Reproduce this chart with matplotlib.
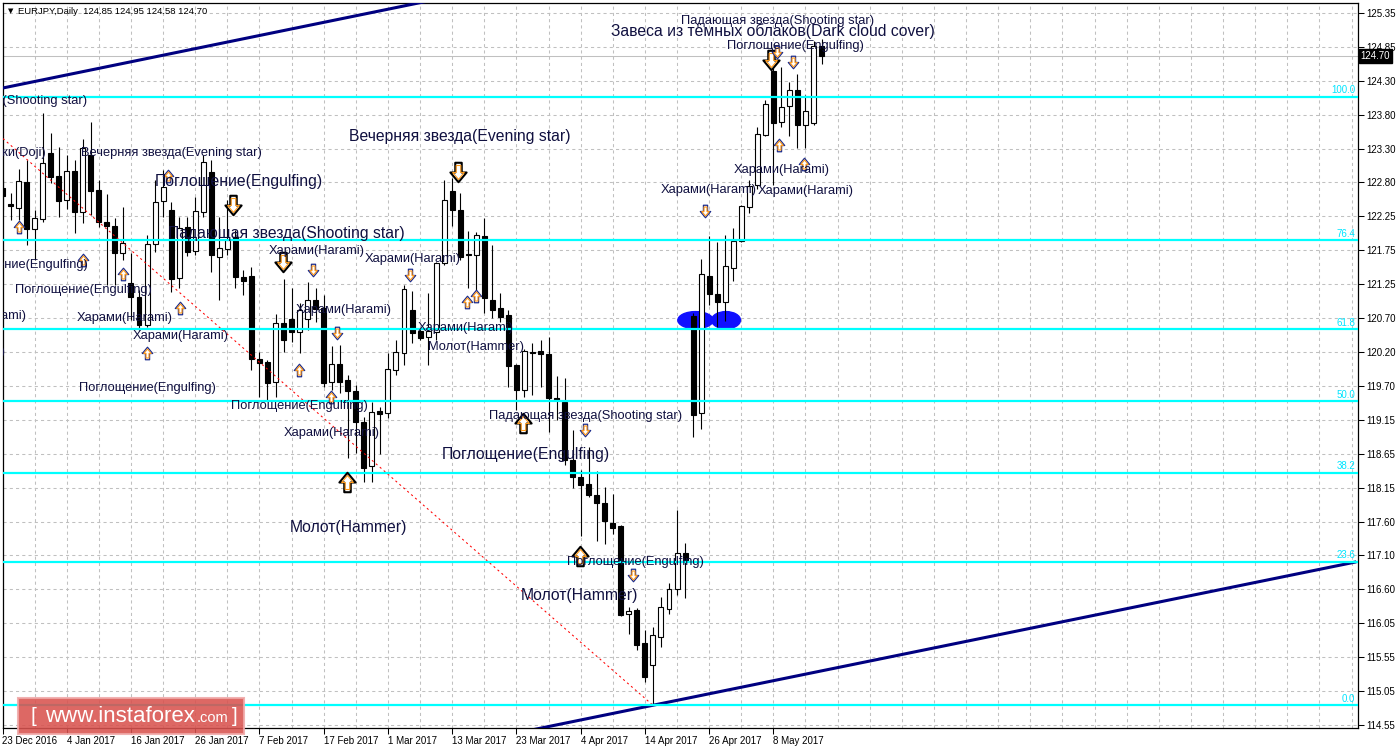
import matplotlib
matplotlib.use('Agg')
import matplotlib.pyplot as plt
from matplotlib.patches import Ellipse, Rectangle
from matplotlib.path import Path
import numpy as np

plt.rcParams['font.family'] = ['Liberation Sans', 'DejaVu Sans']

# EURJPY daily bars, 23 Dec 2016 .. 16 May 2017
opens = [122.70, 122.45, 122.39, 122.79, 122.07, 122.23, 123.23, 122.88, 122.51, 122.95,
         122.33, 123.20, 122.67, 122.18, 122.12, 121.71, 121.26, 121.04, 120.62, 121.85,
         122.50, 122.36, 121.33, 122.10, 121.74, 122.33, 122.94, 121.65, 121.77, 121.95,
         121.35, 121.36, 120.10, 120.06, 119.75, 120.65, 120.71, 120.51, 120.71, 121.00,
         120.88, 119.75, 120.03, 119.78, 119.62, 119.15, 118.48, 119.31, 119.28, 119.94,
         120.19, 120.85, 120.53, 120.44, 120.51, 121.56, 122.65, 122.36, 121.69, 121.68,
         121.97, 121.00, 120.88, 120.77, 120.01, 119.63, 120.21, 120.22, 120.18, 119.51,
         119.45, 118.57, 118.31, 118.21, 118.04, 117.92, 117.61, 117.57, 116.23, 116.30,
         115.79, 115.46, 115.89, 116.31, 116.61, 117.16, 120.75, 119.28, 121.36, 121.09,
         120.97, 121.48, 121.89, 122.41, 122.74, 123.50, 124.47, 123.70, 123.94, 124.18,
         123.65, 123.68, 124.85]
highs = [122.82, 122.62, 122.98, 123.12, 122.36, 123.83, 123.53, 123.32, 123.20, 123.12,
         123.44, 123.70, 122.82, 122.60, 122.24, 122.41, 121.71, 121.15, 121.98, 122.82,
         122.97, 122.48, 122.26, 122.26, 122.56, 123.20, 123.12, 122.26, 122.51, 122.06,
         121.45, 121.50, 120.21, 120.09, 120.78, 121.32, 121.18, 120.95, 121.27, 121.18,
         121.07, 120.30, 120.31, 119.86, 119.71, 119.22, 119.45, 119.37, 120.19, 120.39,
         121.22, 121.13, 120.57, 121.10, 121.57, 122.82, 122.85, 122.62, 122.04, 122.03,
         122.24, 121.83, 121.10, 120.85, 120.03, 120.25, 120.35, 120.39, 120.44, 119.84,
         119.81, 119.02, 118.42, 118.77, 118.40, 118.16, 118.05, 117.58, 116.34, 116.33,
         115.99, 116.04, 116.49, 116.70, 117.81, 117.31, 120.80, 121.62, 121.97, 121.88,
         121.98, 122.09, 122.44, 122.82, 123.62, 124.03, 124.64, 124.53, 124.30, 124.42,
         124.11, 124.93, 124.95]
lows = [122.36, 122.21, 122.21, 121.83, 121.60, 122.18, 122.77, 122.26, 122.38, 122.01,
        122.17, 122.29, 122.10, 121.22, 121.22, 121.60, 120.69, 120.54, 120.59, 121.73,
        122.26, 121.12, 121.18, 121.66, 121.68, 122.26, 121.42, 121.00, 121.68, 121.18,
        121.07, 119.94, 119.53, 119.48, 119.53, 120.21, 120.36, 120.19, 120.54, 120.66,
        119.68, 119.63, 119.59, 118.60, 118.68, 118.24, 118.24, 118.66, 119.21, 119.86,
        120.01, 120.35, 120.39, 120.01, 120.39, 121.53, 122.12, 121.60, 121.18, 121.10,
        120.80, 120.72, 120.66, 119.68, 119.33, 119.53, 119.56, 119.68, 118.99, 119.18,
        118.49, 118.15, 117.42, 118.01, 117.34, 117.30, 117.45, 116.20, 115.93, 115.69,
        115.20, 114.85, 115.73, 116.23, 116.52, 116.48, 118.92, 119.04, 120.92, 120.59,
        120.68, 121.29, 121.88, 122.32, 122.68, 123.48, 122.74, 123.62, 123.48, 123.30,
        123.30, 123.65, 124.58]
closes = [122.57, 122.42, 122.80, 122.07, 122.24, 123.07, 122.86, 122.50, 122.95, 122.33,
          123.30, 122.65, 122.18, 122.12, 121.71, 121.86, 121.04, 120.62, 121.85, 122.48,
          122.71, 121.32, 122.09, 121.73, 122.35, 123.09, 121.68, 121.79, 121.91, 121.35,
          121.29, 120.10, 120.04, 119.74, 120.65, 120.39, 120.51, 120.85, 121.00, 120.86,
          119.74, 120.03, 119.75, 119.62, 119.15, 118.45, 119.30, 119.27, 119.95, 120.21,
          121.16, 120.50, 120.42, 120.53, 121.56, 122.51, 122.36, 121.65, 121.68, 121.98,
          121.03, 120.85, 120.74, 120.00, 119.63, 120.22, 120.19, 120.18, 119.51, 119.48,
          118.57, 118.31, 118.19, 118.04, 117.92, 117.64, 117.54, 116.22, 116.28, 115.76,
          115.28, 115.92, 116.34, 116.61, 117.16, 117.04, 119.25, 121.39, 121.09, 120.97,
          121.51, 121.89, 122.42, 122.73, 123.52, 123.97, 123.68, 123.92, 124.18, 123.65,
          123.86, 124.85, 124.70]

date_labels = ['23 Dec 2016', '4 Jan 2017', '16 Jan 2017', '26 Jan 2017', '7 Feb 2017',
               '17 Feb 2017', '1 Mar 2017', '13 Mar 2017', '23 Mar 2017', '4 Apr 2017',
               '14 Apr 2017', '26 Apr 2017', '8 May 2017']
price_labels = ['125.35', '124.85', '124.30', '123.80', '123.30', '122.80', '122.25',
                '121.75', '121.25', '120.70', '120.20', '119.70', '119.15', '118.65',
                '118.15', '117.60', '117.10', '116.60', '116.05', '115.55', '115.05', '114.55']

# fibonacci grid from the 17 Apr low to the December high
fib_low, fib_high = 114.85, 124.08
fib_ratios = [0.0, 0.236, 0.382, 0.5, 0.618, 0.764, 1.0]
fib_names = ['0.0', '23.6', '38.2', '50.0', '61.8', '76.4', '100.0']

# trend lines (bar index, price)
upper_trend = [(0, 124.21), (55, 125.58)]
lower_trend = [(81, 114.85), (168.4, 117.02)]
red_line = [(0, 123.45), (81, 114.85)]

big_labels = [
    ('Завеса из тёмных облаков(Dark cloud cover)', 75.8, 125.08),
    ('Вечерняя звезда(Evening star)', 43.2, 123.48),
    ('Поглощение(Engulfing)', 19.0, 122.80),
    ('Падающая звезда(Shooting star)', 20.6, 122.00),
    ('Поглощение(Engulfing)', 54.7, 118.65),
    ('Молот(Hammer)', 35.8, 117.55),
    ('Молот(Hammer)', 64.6, 116.51),
]
small_labels = [
    ('Падающая звезда(Shooting star)', 84.5, 125.23, 'left'),
    ('Поглощение(Engulfing)', 90.2, 124.85, 'left'),
    ('Падающая звезда(Shooting star)', 10.5, 124.01, 'right'),
    ('Доджи(Doji)', 5.5, 123.23, 'right'),
    ('Вечерняя звезда(Evening star)', 9.8, 123.23, 'left'),
    ('Поглощение(Engulfing)', 10.65, 121.53, 'right'),
    ('Поглощение(Engulfing)', 1.56, 121.15, 'left'),
    ('Харами(Harami)', 3.05, 120.75, 'right'),
    ('Харами(Harami)', 9.28, 120.72, 'left'),
    ('Харами(Harami)', 16.25, 120.45, 'left'),
    ('Харами(Harami)', 0.45, 120.21, 'right'),
    ('Поглощение(Engulfing)', 9.53, 119.66, 'left'),
    ('Поглощение(Engulfing)', 28.46, 119.39, 'left'),
    ('Харами(Harami)', 35.06, 118.98, 'left'),
    ('Харами(Harami)', 33.2, 121.74, 'left'),
    ('Харами(Harami)', 36.55, 120.85, 'left'),
    ('Харами(Harami)', 45.1, 121.62, 'left'),
    ('Харами(Harami)', 51.7, 120.57, 'left'),
    ('Молот(Hammer)', 53.0, 120.28, 'left'),
    ('Падающая звезда(Shooting star)', 60.6, 119.24, 'left'),
    ('Поглощение(Engulfing)', 70.3, 117.02, 'left'),
    ('Харами(Harami)', 82.0, 122.67, 'left'),
    ('Харами(Harami)', 94.0, 122.65, 'left'),
    ('Харами(Harami)', 91.0, 122.97, 'left'),
]
# (bar, price, up?, big?)
arrows = [
    (28.7, 122.44, False, True), (34.9, 121.57, False, True), (56.7, 122.94, False, True),
    (95.7, 124.64, False, True),
    (42.9, 118.24, True, True), (64.8, 119.13, True, True), (71.9, 117.11, True, True),
    (2.05, 122.10, True, False), (10.0, 121.60, True, False), (15.0, 121.39, True, False),
    (22.1, 120.88, True, False), (18.0, 120.19, True, False), (36.9, 119.93, True, False),
    (40.9, 119.52, True, False), (57.85, 120.97, True, False), (58.96, 121.06, True, False),
    (96.7, 123.35, True, False), (99.8, 123.06, True, False), (20.6, 122.88, True, False),
    (38.7, 121.45, False, False), (41.7, 120.50, False, False), (50.8, 121.38, False, False),
    (72.5, 119.03, False, False), (78.5, 116.83, False, False), (87.5, 122.35, False, False),
    (96.5, 124.76, False, False), (98.5, 124.61, False, False),
]

W, H = 1398, 749
fig = plt.figure(figsize=(W / 100, H / 100), dpi=100)
L, T, R, B = 2.5, 3, 1358, 728
ax = fig.add_axes([L / W, 1 - B / H, (R - L) / W, (B - T) / H])
ax.set_xlim(0, (R - L) / 8.03)
ax.set_ylim(114.505, 125.50)

# grid
price_ticks = np.linspace(125.35, 114.55, len(price_labels))
for xb in np.arange(4, 170, 4):
    ax.axvline(xb, color='#c0c0c0', lw=0.75, ls=(0, (3, 3)), zorder=1)
for yp in price_ticks:
    ax.axhline(yp, color='#c0c0c0', lw=0.75, ls=(0, (3, 3)), zorder=1)

# bid line
ax.axhline(closes[-1], color='#c0c0c0', lw=0.75, zorder=1)

# highlighted gap
ax.add_patch(Ellipse((86.3, 120.69), 4.4, 0.26, color='#1010ff', zorder=2))
ax.add_patch(Ellipse((90.1, 120.69), 3.6, 0.26, color='#1010ff', zorder=2))

# candles
o, h, l, c = map(np.array, (opens, highs, lows, closes))
x = np.arange(len(o))
up = c >= o
lo = np.minimum(o, c)
ht = np.maximum(np.abs(c - o), 0.012)
ax.vlines(x, l, h, color='black', lw=0.8, zorder=3)
ax.bar(x[up], ht[up], bottom=lo[up], width=0.62, color='white', edgecolor='black', lw=0.8, zorder=4)
ax.bar(x[~up], ht[~up], bottom=lo[~up], width=0.62, color='black', edgecolor='black', lw=0.8, zorder=4)

# trend lines
def extend(pts, x0, x1):
    (xa, ya), (xb, yb) = pts
    k = (yb - ya) / (xb - xa)
    return [x0, x1], [ya + k * (x0 - xa), ya + k * (x1 - xa)]

ax.plot(*extend(upper_trend, 0, 60), color='#000080', lw=2.2, zorder=5)
ax.plot(*extend(lower_trend, 60, 168.4), color='#000080', lw=2.2, zorder=5)
ax.plot(*extend(red_line, -3, 81), color='red', lw=0.75, ls=(0, (2, 3)), zorder=5)

# fibo levels
for r, name in zip(fib_ratios, fib_names):
    lev = fib_low + r * (fib_high - fib_low)
    ax.axhline(lev, color='#00ffff', lw=1.6, zorder=6)
    ax.text(0.998, lev + 0.02, name, transform=ax.get_yaxis_transform(), ha='right', va='bottom',
            color='#00e5ff', fontsize=7, zorder=7)

# pattern labels
txt_col = '#101040'
for s, xb, yp in big_labels:
    ax.text(xb, yp, s, fontsize=11.3, color=txt_col, ha='left', va='center', zorder=9, clip_on=True)
for s, xb, yp, al in small_labels:
    ax.text(xb, yp, s, fontsize=9.3, color=txt_col, ha=al, va='center', zorder=9, clip_on=True)

# hollow block arrows
verts = [(-0.2, -0.6), (0.2, -0.6), (0.2, 0.0), (0.5, 0.0), (0.0, 0.6), (-0.5, 0.0), (-0.2, 0.0), (-0.2, -0.6)]
codes = [Path.MOVETO] + [Path.LINETO] * 6 + [Path.CLOSEPOLY]
up_mark = Path(verts, codes)
down_mark = Path([(vx, -vy) for vx, vy in verts], codes)
for xb, yp, is_up, big in arrows:
    m = up_mark if is_up else down_mark
    ms = 14 if big else 9
    edge = 'black' if big else '#1c2c8c'
    ax.plot(xb, yp, marker=m, ms=ms, mfc='white', mec=edge, mew=1.5 if big else 0.9, zorder=8)
    ax.plot(xb, yp, marker=m, ms=ms * 0.72, mfc='none', mec='#ff9a1a', mew=0.8, zorder=8)

# axes styling
for sp in ax.spines.values():
    sp.set_linewidth(0.9)
ax.yaxis.tick_right()
ax.set_yticks(price_ticks, labels=price_labels)
ax.set_xticks(np.arange(0, 8 * len(date_labels), 8), labels=date_labels)
ax.tick_params(axis='both', direction='out', length=4, width=0.75, pad=2, labelsize=7)
for lab in ax.get_xticklabels():
    lab.set_ha('left')

ax.text(1.002, closes[-1], '124.70', transform=ax.get_yaxis_transform(), ha='left', va='center',
        color='white', fontsize=7,
        bbox=dict(boxstyle='square,pad=0.2', fc='black', ec='black'), zorder=10, clip_on=False)

# header
fig.text(8 / W, 1 - 11 / H, '▼', fontsize=5, va='center', family='DejaVu Sans')
fig.text(18 / W, 1 - 11 / H, 'EURJPY,Daily  124.85 124.95 124.58 124.70', fontsize=6.8, va='center')

# watermark
fig.patches.append(Rectangle((18 / W, 1 - 734 / H), 226 / W, 36 / H, transform=fig.transFigure,
                             fc='#d9534f', ec='#f0a8a8', lw=1.5, alpha=0.88, zorder=20))
fig.text(33 / W, 1 - 717 / H, '[', color='white', fontsize=15, ha='center', va='center', zorder=21)
fig.text(45 / W, 1 - 716 / H, 'www.instaforex', color='white', fontsize=16, ha='left', va='center', zorder=21)
fig.text(197 / W, 1 - 718 / H, '.com', color='white', fontsize=10.5, ha='left', va='center', zorder=21)
fig.text(235 / W, 1 - 717 / H, ']', color='white', fontsize=15, ha='center', va='center', zorder=21)

fig.savefig('out.png', dpi=100)
